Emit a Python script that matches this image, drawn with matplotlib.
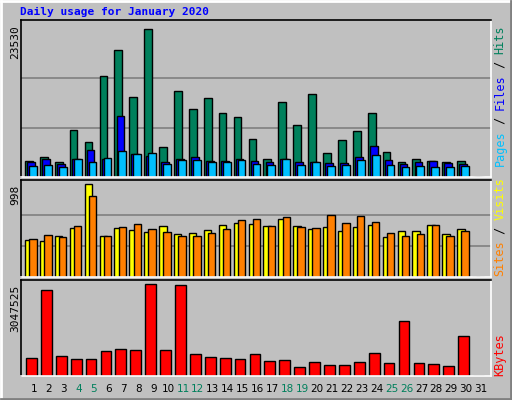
import matplotlib
matplotlib.use("Agg")
import matplotlib.pyplot as plt

days = list(range(1, 32))
hits = [2609,3248,2449,7400,5484,16025,20178,12671,23530,4845,13629,10754,12511,10115,9477,5963,2928,11872,8199,13150,3886,5803,7240,10115,4046,2449,2928,2609,2449,2609,0]
files = [2449,2928,2130,2928,4366,2928,9636,3727,3407,2449,2928,3248,2609,2609,2928,2609,2449,2928,2449,2449,2289,2289,3248,5004,2768,2130,2449,2609,2289,2130,0]
pages = [1810,1970,1650,2928,2449,3088,4206,3727,3887,2130,2768,2768,2449,2449,2768,2130,1970,2928,1970,2449,1810,1970,2768,3567,1970,1650,1810,1650,1650,1810,0]
visits = [400,389,443,530,998,443,530,508,486,551,465,476,508,562,584,573,551,627,551,519,540,497,540,562,432,497,497,562,465,519,0]
sites = [411,454,432,551,865,443,540,573,519,486,443,443,476,519,616,627,551,649,540,530,670,584,659,595,476,443,465,562,443,497,0]
kbytes = [600000,2850000,670000,570000,570000,840000,900000,870000,3047525,870000,3000000,740000,640000,600000,570000,740000,500000,540000,300000,470000,370000,370000,470000,770000,440000,1810000,440000,400000,340000,1310000,0]
weekend = [4,5,11,12,18,19,25,26]

W, H = 512, 400
fig = plt.figure(figsize=(W/100, H/100), dpi=100)
fig.patch.set_facecolor("#C0C0C0")
bg = fig.add_axes([0, 0, 1, 1]); bg.set_xlim(0, W); bg.set_ylim(H, 0); bg.axis("off")
bg.plot([1, W-1], [1, 1], color="white", lw=2); bg.plot([1, 1], [1, H-1], color="white", lw=2)
bg.plot([1, W-1], [H-1, H-1], color="#808080", lw=2); bg.plot([W-1, W-1], [1, H-1], color="#808080", lw=2)

mono = "DejaVu Sans Mono"
bg.text(20, 15, "Daily usage for January 2020", color="#0000FF", fontsize=8, fontweight="bold", family=mono, va="baseline")

def panel(y0, y1):
    ax = fig.add_axes([21/W, (H-y1)/H, 470/W, (y1-y0)/H])
    ax.set_facecolor("#C0C0C0")
    ax.set_xlim(0.13, 31.67)
    ax.set_xticks([]); ax.set_yticks([])
    for s in ["top", "left"]:
        ax.spines[s].set_color("#000000")
    for s in ["bottom", "right"]:
        ax.spines[s].set_color("#FFFFFF")
    for s in ax.spines.values():
        s.set_linewidth(1.2)
    return ax

def grid(ax, m):
    for f in (1/3, 2/3):
        ax.axhline(m*f, color="#808080", lw=1.2, zorder=0)

x = days
ax1 = panel(20, 177)
ax1.set_ylim(0, 23530*1.06)
grid(ax1, 23530)
ax1.bar([d-0.34 for d in x], hits, 0.52, color="#00805C", edgecolor="black", lw=1)
ax1.bar([d-0.2 for d in x], files, 0.52, color="#0000FF", edgecolor="black", lw=1)
ax1.bar([d-0.07 for d in x], pages, 0.52, color="#00C0FF", edgecolor="black", lw=1)

ax2 = panel(180, 277)
ax2.set_ylim(0, 998*1.043)
grid(ax2, 998)
ax2.bar([d-0.35 for d in x], visits, 0.5, color="#FFFF00", edgecolor="black", lw=1)
ax2.bar([d-0.07 for d in x], sites, 0.5, color="#FF8000", edgecolor="black", lw=1)

ax3 = panel(280, 376)
ax3.set_ylim(0, 3047525*1.044)
ax3.bar([d-0.17 for d in x], kbytes, 0.72, color="#FF0000", edgecolor="black", lw=1)

for y, t in [(20, "23530"), (180, "998"), (280, "3047525")]:
    bg.text(15, y+5, t, rotation=90, fontsize=8, family=mono, ha="center", va="top")

cw = 7.0
def right_label(ybottom, parts):
    y = ybottom
    for txt, col in parts:
        bg.text(500, y, txt, rotation=90, fontsize=8.5, family=mono, color=col, ha="center", va="bottom")
        y -= cw*len(txt)

right_label(166, [("Pages", "#00C0FF"), (" / ", "black"), ("Files", "#0000FF"), (" / ", "black"), ("Hits", "#00805C")])
right_label(276, [("Sites", "#FF8000"), (" / ", "black"), ("Visits", "#FFFF00")])
right_label(376, [("KBytes", "#FF0000")])

for d in days:
    px = 34 + (d-1)*14.9
    bg.text(px, 389, str(d), fontsize=7.5, ha="center", va="center",
            color="#00805C" if d in weekend else "black")

fig.savefig("out.png", dpi=100, facecolor=fig.get_facecolor())
